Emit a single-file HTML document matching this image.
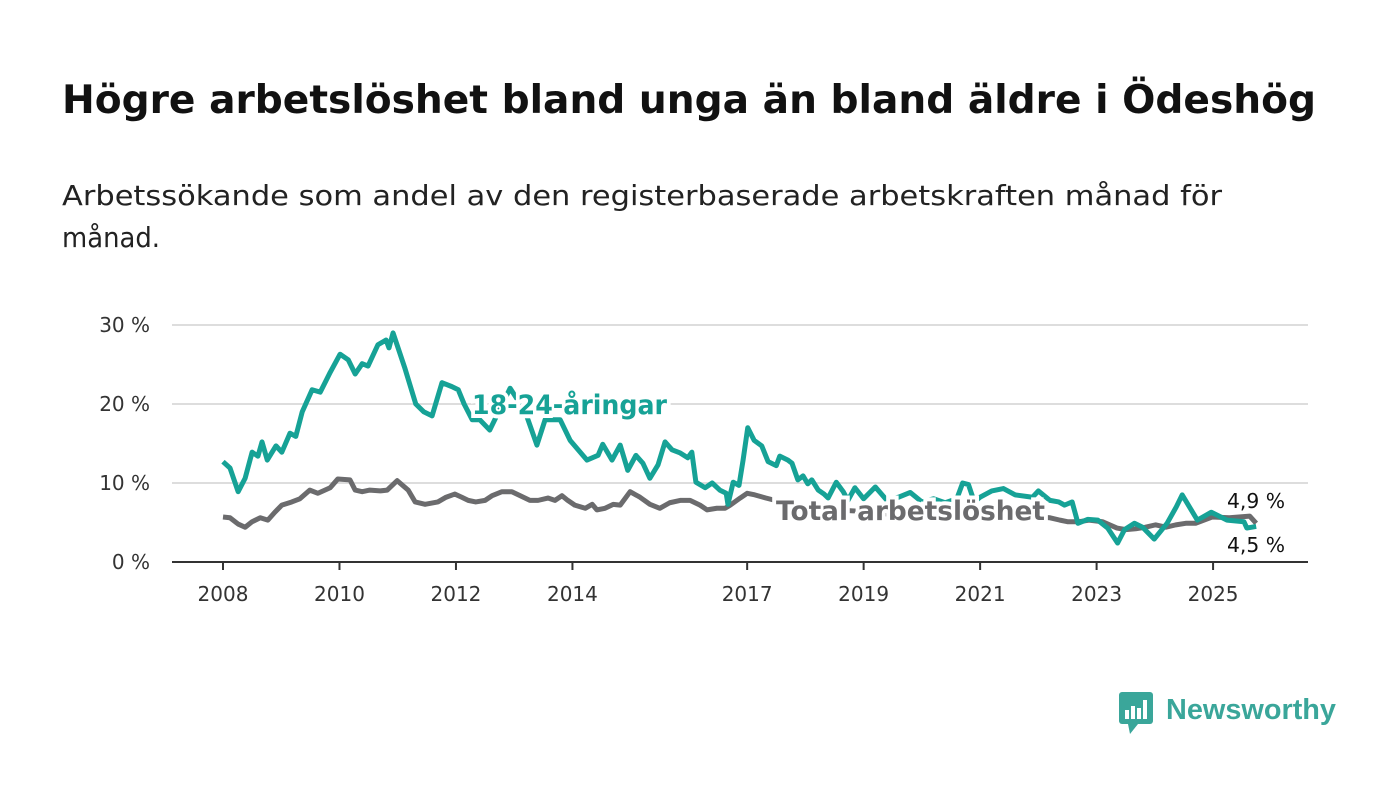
<!DOCTYPE html>
<html><head><meta charset="utf-8"><style>
body{margin:0;background:#fff;width:1400px;height:794px;overflow:hidden;font-family:"DejaVu Sans","Liberation Sans",sans-serif}
</style></head><body>
<svg width="1400" height="794" xmlns="http://www.w3.org/2000/svg">
<text x="62" y="113" font-size="39" font-weight="bold" fill="#111" textLength="1254" lengthAdjust="spacingAndGlyphs">Högre arbetslöshet bland unga än bland äldre i Ödeshög</text>
<text x="62" y="205" font-size="28" fill="#222" textLength="1160" lengthAdjust="spacingAndGlyphs">Arbetssökande som andel av den registerbaserade arbetskraften månad för</text>
<text x="62" y="247" font-size="28" fill="#222" textLength="98" lengthAdjust="spacingAndGlyphs">månad.</text>
<g id="grid"></g><g id="xaxis"></g><g id="series"></g><g id="labels"></g>
<g>
<rect x="1119" y="692" width="34" height="32" rx="3" fill="#3aa69a"/>
<polygon points="1128,724 1138,724 1130,734" fill="#3aa69a"/>
<rect x="1125" y="710" width="4" height="9" fill="#fff"/><rect x="1131" y="706" width="4" height="13" fill="#fff"/><rect x="1137" y="708" width="4" height="11" fill="#fff"/><rect x="1143" y="700" width="4" height="19" fill="#fff"/>
<text x="1166" y="719" font-size="29" font-weight="bold" fill="#3aa69a" font-family="Liberation Sans" textLength="170" lengthAdjust="spacingAndGlyphs">Newsworthy</text>
</g>
</svg>
<script>
const yTicks=[0,10,20,30];
const xTicks=[2008,2010,2012,2014,2017,2019,2021,2023,2025];
const youthDates=[2008.0,2008.12,2008.26,2008.38,2008.5,2008.6,2008.67,2008.76,2008.91,2009.01,2009.15,2009.25,2009.36,2009.53,2009.67,2009.84,2010.01,2010.15,2010.27,2010.39,2010.49,2010.66,2010.8,2010.85,2010.92,2011.12,2011.31,2011.45,2011.59,2011.76,2011.93,2012.04,2012.14,2012.28,2012.41,2012.58,2012.93,2013.19,2013.39,2013.53,2013.79,2013.96,2014.25,2014.44,2014.52,2014.68,2014.82,2014.95,2015.09,2015.21,2015.33,2015.47,2015.59,2015.71,2015.85,2015.98,2016.05,2016.12,2016.28,2016.4,2016.53,2016.64,2016.67,2016.76,2016.86,2016.93,2017.01,2017.12,2017.25,2017.36,2017.5,2017.56,2017.7,2017.77,2017.87,2017.96,2018.04,2018.11,2018.22,2018.32,2018.39,2018.53,2018.65,2018.73,2018.85,2019.0,2019.2,2019.4,2019.6,2019.8,2020.0,2020.2,2020.4,2020.6,2020.7,2020.8,2020.9,2021.0,2021.2,2021.4,2021.6,2021.9,2022.0,2022.2,2022.35,2022.45,2022.58,2022.68,2022.85,2023.02,2023.19,2023.36,2023.48,2023.65,2023.79,2023.99,2024.21,2024.37,2024.47,2024.73,2024.97,2025.24,2025.53,2025.58,2025.74];
const youthValues=[12.7,11.9,8.9,10.6,13.9,13.4,15.2,12.9,14.7,13.9,16.3,15.9,19,21.8,21.5,24,26.3,25.6,23.8,25.1,24.8,27.5,28.1,27.1,29,24.6,20,19,18.5,22.7,22.2,21.8,20,18,18,16.7,22,19,14.8,18,18,15.4,12.9,13.5,14.9,12.9,14.8,11.6,13.5,12.5,10.6,12.3,15.2,14.2,13.8,13.2,13.9,10.1,9.4,10,9.1,8.7,7.3,10.1,9.7,12.9,17,15.4,14.7,12.7,12.2,13.4,12.9,12.5,10.4,10.9,9.9,10.4,9.1,8.6,8.1,10.1,8.9,7.8,9.4,8.0,9.5,7.8,8.2,8.8,7.6,8.0,7.5,8.0,10.0,9.8,7.6,8.2,9.0,9.3,8.5,8.2,9.0,7.8,7.6,7.2,7.6,4.9,5.4,5.3,4.3,2.4,4.1,4.9,4.4,2.9,4.9,7.0,8.5,5.3,6.3,5.3,5.1,4.3,4.5];
const totalDates=[2008.0,2008.12,2008.26,2008.38,2008.5,2008.64,2008.77,2008.89,2009.01,2009.18,2009.32,2009.49,2009.63,2009.84,2009.97,2010.18,2010.27,2010.39,2010.52,2010.7,2010.82,2010.99,2011.18,2011.3,2011.47,2011.69,2011.83,2011.98,2012.1,2012.21,2012.34,2012.5,2012.62,2012.79,2012.96,2013.1,2013.27,2013.41,2013.58,2013.7,2013.82,2013.92,2014.04,2014.22,2014.34,2014.42,2014.56,2014.7,2014.82,2014.99,2015.16,2015.33,2015.5,2015.67,2015.85,2016.02,2016.19,2016.31,2016.48,2016.62,2016.71,2016.88,2017.0,2017.13,2017.32,2017.48,2018.0,2018.5,2019.0,2019.5,2020.0,2020.5,2021.0,2021.5,2022.0,2022.2,2022.37,2022.5,2022.7,2022.87,2023.1,2023.35,2023.5,2023.67,2023.84,2024.01,2024.19,2024.36,2024.53,2024.7,2024.99,2025.28,2025.63,2025.74];
const totalValues=[5.7,5.6,4.8,4.4,5.1,5.6,5.3,6.3,7.2,7.6,8.0,9.1,8.7,9.4,10.5,10.4,9.1,8.9,9.1,9.0,9.1,10.3,9.1,7.6,7.3,7.6,8.2,8.6,8.2,7.8,7.6,7.8,8.4,8.9,8.9,8.4,7.8,7.8,8.1,7.8,8.4,7.8,7.2,6.8,7.3,6.6,6.8,7.3,7.2,8.9,8.2,7.3,6.8,7.5,7.8,7.8,7.2,6.6,6.8,6.8,7.2,8.1,8.7,8.5,8.1,7.8,7.0,6.6,6.4,6.0,6.0,6.4,6.2,5.9,5.7,5.6,5.3,5.1,5.1,5.3,5.1,4.3,4.1,4.2,4.4,4.7,4.4,4.7,4.9,4.9,5.7,5.6,5.8,4.9];
const NS="http://www.w3.org/2000/svg";
const X=y=>223+(y-2008)*58.24, Y=v=>562-v*7.9;
function mk(t,a,p){const e=document.createElementNS(NS,t);for(const k in a)e.setAttribute(k,a[k]);document.getElementById(p).appendChild(e);return e;}
yTicks.forEach(t=>{
 if(t>0){const l=mk('line',{x1:172,x2:1308,y1:Y(t),y2:Y(t),stroke:'#ddd','stroke-width':2},'grid');
 
 }
 const tx=mk('text',{x:150,y:Y(t)+7,'font-size':20,fill:'#333','text-anchor':'end'},'grid');tx.textContent=t+' %';
 
 
});
const ax=mk('line',{x1:172,x2:1308,y1:562,y2:562,stroke:'#333','stroke-width':2},'xaxis');


xTicks.forEach(t=>{
 mk('line',{x1:X(t),x2:X(t),y1:562,y2:570,stroke:'#333','stroke-width':2},'xaxis');
 const tx=mk('text',{x:X(t),y:601,'font-size':20,fill:'#333','text-anchor':'middle'},'xaxis');tx.textContent=t;
 
 
});
function line(d,v,c,n){const p=mk('polyline',{points:d.map((x,i)=>X(x)+','+Y(v[i])).join(' '),fill:'none',stroke:c,'stroke-width':5,'stroke-linejoin':'round'},'series');
 
 }
line(totalDates,totalValues,'#6b6b6d','total-line');
line(youthDates,youthValues,'#16a296','youth-line');
function lab(x,y,t,c,n,sz,bold,w){const e=mk('text',{x:x,y:y,'font-size':sz,'font-weight':bold?'bold':'normal',fill:c,stroke:'#fff','stroke-width':bold?8:0,'paint-order':'stroke'},'labels');e.textContent=t;
 if(w){e.setAttribute('textLength',w);e.setAttribute('lengthAdjust','spacingAndGlyphs');}
 
 }
lab(472,414,'18-24-åringar','#16a296','youth-label',27,true,195);
lab(776,520,'Total arbetslöshet','#6b6b6d','total-label',27,true,269);
lab(1227,508,'4,9 %','#111','total-end-value',20,false,58);
lab(1227,552,'4,5 %','#111','youth-end-value',20,false,58);
</script>
</body></html>
